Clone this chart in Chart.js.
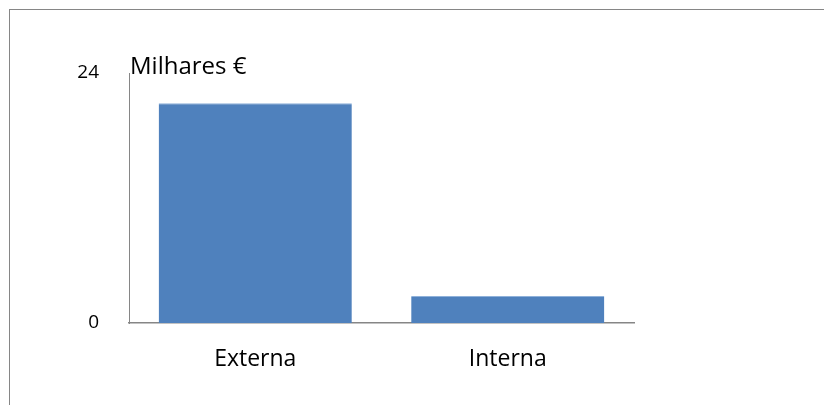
<!DOCTYPE html>
<html>
<head>
<meta charset="utf-8">
<script src="https://cdn.jsdelivr.net/npm/chart.js@4"></script>
<style>
  html, body { margin: 0; padding: 0; background: #fff; overflow: hidden; }
  #frame { position: absolute; left: 9px; top: 9px; width: 816px; height: 420px; border: 1px solid #868686; }
  #wrap { position: absolute; left: 0; top: 0; width: 824px; height: 405px; }
</style>
</head>
<body>
<div id="frame"></div>
<div id="wrap"><canvas id="chart"></canvas></div>
<script>
const categories = ["Externa", "Interna"];
const values = [21.1, 2.6];
const yTicks = [0, 24];
const unitLabel = "Milhares €";

const FONT = "'Open Sans', 'Noto Sans', sans-serif";

// unit caption sitting just above the top of the value axis
const unitCaption = {
  id: "unitCaption",
  afterDraw(chart) {
    const { ctx, chartArea } = chart;
    ctx.save();
    ctx.font = "24px " + FONT;
    ctx.fillStyle = "#000";
    ctx.textAlign = "left";
    ctx.textBaseline = "alphabetic";
    ctx.fillText(unitLabel, chartArea.left + 1, chartArea.top + 1);
    ctx.restore();
  }
};

new Chart(document.getElementById("chart"), {
  type: "bar",
  data: {
    labels: categories,
    datasets: [{
      data: values,
      backgroundColor: "#4f81bd",
      borderColor: "#8fb1da",
      borderWidth: { top: 1, left: 0, right: 0, bottom: 0 },
      categoryPercentage: 1,
      barPercentage: 0.765
    }]
  },
  options: {
    responsive: true,
    maintainAspectRatio: false,
    animation: false,
    layout: { padding: { left: 0, top: 73, right: 190, bottom: 0 } },
    plugins: { legend: { display: false }, tooltip: { enabled: false } },
    scales: {
      x: {
        grid: { display: false },
        border: { display: true, color: "#868686", width: 1.5 },
        ticks: { color: "#000", font: { family: FONT, size: 23 }, padding: 15 },
        afterFit(scale) { scale.height = 82; }
      },
      y: {
        min: 0,
        max: 24,
        grid: { display: false },
        border: { display: true, color: "#868686", width: 1 },
        ticks: { color: "#000", font: { family: FONT, size: 19 }, padding: 22 },
        afterBuildTicks(scale) { scale.ticks = yTicks.map(v => ({ value: v })); },
        afterFit(scale) { scale.width = 129; }
      }
    }
  },
  plugins: [unitCaption]
});
</script>
</body>
</html>
